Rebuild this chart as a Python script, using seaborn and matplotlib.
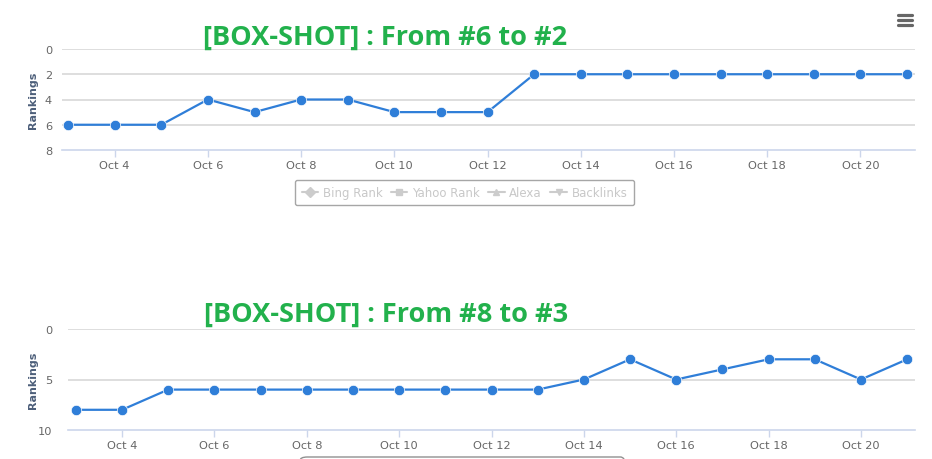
import matplotlib
matplotlib.use("Agg")
import matplotlib.pyplot as plt
import seaborn as sns
import pandas as pd
from matplotlib.lines import Line2D
from matplotlib.patches import FancyBboxPatch

# ---- data ----
days = list(range(3, 22))  # Oct 3 .. Oct 21
top_rank = [6, 6, 6, 4, 5, 4, 4, 5, 5, 5, 2, 2, 2, 2, 2, 2, 2, 2, 2]
bottom_rank = [8, 8, 6, 6, 6, 6, 6, 6, 6, 6, 6, 5, 3, 5, 4, 3, 3, 5, 3]
tick_days = [4, 6, 8, 10, 12, 14, 16, 18, 20]
tick_labels = [f"Oct {d}" for d in tick_days]
top_yticks = [0, 2, 4, 6, 8]
bottom_yticks = [0, 5, 10]
top_title = "[BOX-SHOT] : From #6 to #2"
bottom_title = "[BOX-SHOT] : From #8 to #3"
legend_names = ["Bing Rank", "Yahoo Rank", "Alexa", "Backlinks"]
legend_markers = ["D", "s", "^", "v"]

sns.set_theme(style="white")
plt.rcParams['font.family'] = ['DejaVu Sans']

LINE = "#2f7ed8"
GRID = "#d8d8d8"
AXIS = "#ccd6eb"
TICKC = "#666666"
GREEN = "#22b14c"

fig = plt.figure(figsize=(9.32, 4.6), dpi=100)
W, H = 932, 460

def fx(px):
    return px / W

def fy(py):
    return 1 - py / H

ax1 = fig.add_axes([fx(62), fy(151), fx(915) - fx(62), fy(50) - fy(151)])
ax2 = fig.add_axes([fx(68), fy(431), fx(915) - fx(68), fy(330) - fy(431)])

df_top = pd.DataFrame({"day": days, "rank": top_rank})
df_bot = pd.DataFrame({"day": days, "rank": bottom_rank})

def style(ax, df, ymax, yticks, xlim, left_px):
    sns.lineplot(data=df, x="day", y="rank", ax=ax, color=LINE, lw=1.6,
                 marker="o", markersize=7.5, markeredgewidth=0.5,
                 markeredgecolor="white", zorder=5)
    ax.set_ylim(ymax, 0)
    ax.set_xlim(*xlim)
    ax.set_yticks(yticks)
    ax.set_xticks(tick_days)
    ax.set_xticklabels(tick_labels)
    for y in yticks[:-1]:
        ax.axhline(y, color=GRID, lw=1.2, zorder=1)
    for s in ["top", "right", "left"]:
        ax.spines[s].set_visible(False)
    ax.spines["bottom"].set_color(AXIS)
    ax.spines["bottom"].set_linewidth(1.2)
    ax.tick_params(axis="x", colors=AXIS, length=5, width=1, labelcolor=TICKC,
                   labelsize=8.2, pad=2, bottom=True)
    ax.tick_params(axis="y", length=0, labelcolor=TICKC, labelsize=8.2, pad=0)
    for lab in ax.get_yticklabels():
        lab.set_horizontalalignment("right")
    ax.set_xlabel("")
    ax.set_ylabel("Rankings", color="#4d5f7a", fontsize=8, fontweight="bold")
    width_px = 915 - left_px
    ax.yaxis.set_label_coords((38 - left_px) / width_px, 0.5)
    ax.grid(False)
    ax.set_facecolor("none")

style(ax1, df_top, 8, top_yticks, (2.87, 21.17), 62)
style(ax2, df_bot, 10, bottom_yticks, (2.83, 21.17), 68)

# y tick label padding to put right edge near x=52px
from matplotlib.transforms import ScaledTranslation
for ax, left_px in [(ax1, 62), (ax2, 68)]:
    off = ScaledTranslation(-(left_px - 52) / 100, 0, fig.dpi_scale_trans)
    for lab in ax.get_yticklabels():
        lab.set_transform(lab.get_transform() + off)

tfont = dict(family=["Open Sans", "DejaVu Sans"], fontweight="bold", color=GREEN, fontsize=19.5)
fig.text(fx(385), fy(38), top_title, ha="center", va="center", **tfont)
fig.text(fx(386), fy(315), bottom_title, ha="center", va="center", **tfont)

# legend (hidden series)
handles = [Line2D([0], [0], color="#cccccc", marker=m, markersize=5, lw=1.5,
                  markerfacecolor="#cccccc", markeredgecolor="#cccccc")
           for m in legend_markers]
leg = fig.legend(handles, legend_names, loc="center", ncol=4,
                 bbox_to_anchor=(fx(464.5), fy(193.5)), frameon=True,
                 fontsize=8.5, handlelength=1.4, handletextpad=0.4,
                 columnspacing=0.7, borderpad=0.55, fancybox=True)
for t in leg.get_texts():
    t.set_color("#c8c8c8")
fr = leg.get_frame()
fr.set_edgecolor("#909090")
fr.set_linewidth(1)
fr.set_facecolor("white")

# partial legend box at the bottom (clipped)
fig.patches.append(FancyBboxPatch((fx(300), fy(490)), fx(628) - fx(300), fy(458) - fy(490),
                                  boxstyle="round,pad=0,rounding_size=0.008",
                                  transform=fig.transFigure, facecolor="none",
                                  edgecolor="#909090", lw=1, figure=fig))

# menu icon
for py in [16, 21, 26]:
    fig.add_artist(Line2D([fx(898), fx(912)], [fy(py), fy(py)], color="#666666",
                          lw=2.3, solid_capstyle="round", transform=fig.transFigure))

fig.savefig("out.png", dpi=100)
